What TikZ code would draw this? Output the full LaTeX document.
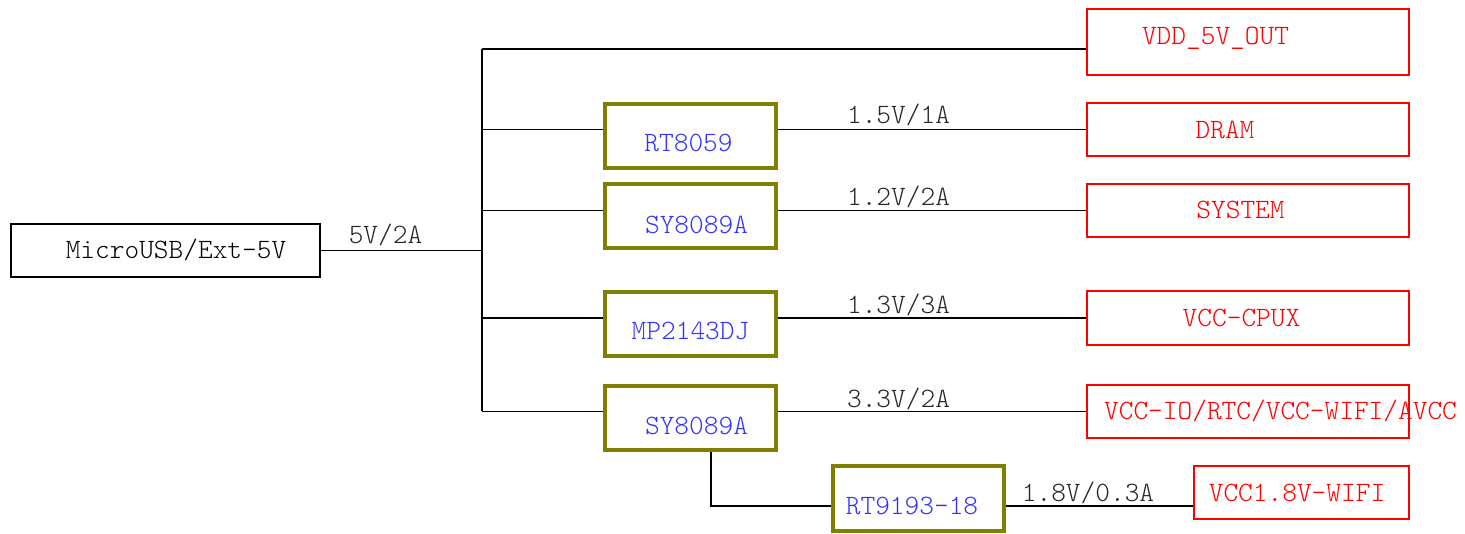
\documentclass[tikz,border=0pt]{standalone}
\usetikzlibrary{positioning}

\definecolor{regolive}{RGB}{128,128,0}
\definecolor{regblue}{RGB}{51,51,255}
\definecolor{loadred}{RGB}{255,0,0}

\tikzset{
	txt/.style={inner sep=0pt, text height=17pt, text depth=0pt, font=\fontsize{28}{30}\fontseries{l}\ttfamily\selectfont},
	srcbox/.style={draw=black, line width=1.2pt, inner sep=0pt, minimum width=309pt, minimum height=53pt},
	regbox/.style={draw=regolive, line width=4pt, inner sep=0pt, minimum width=171pt, minimum height=64pt},
	loadbox/.style={draw=loadred, line width=1.3pt, inner sep=0pt, minimum width=322pt, minimum height=53pt},
	wire/.style={draw=black, line width=1.2pt},
	regname/.style={txt, text=regblue},
	loadname/.style={txt, text=loadred},
	railname/.style={txt, text=black!85}
}

\begin{document}
\begin{tikzpicture}[x=1pt,y=-1pt]
	\useasboundingbox (0,0) rectangle (1465,534);

	% source
	\node[srcbox] (usb) at (165.5,250.5) {};
	\node[txt] (usbtxt) at (176,250.5) {MicroUSB/Ext-5V};

	% regulators
	\node[regbox] (rt8059) at (690,136) {};
	\node[regbox] (sy8089a) at (690,216.5) {};
	\node[regbox] (mp2143) at (690,324.5) {};
	\node[regbox] (sy8089b) at (690,418.5) {};
	\node[regbox] (rt9193) at (918.5,498.5) {};
	\node[regname] (rt8059txt) at (688.5,143) {RT8059};
	\node[regname] (sy8089atxt) at (696.5,225) {SY8089A};
	\node[regname] (mp2143txt) at (690.5,331) {MP2143DJ};
	\node[regname] (sy8089btxt) at (696.5,426) {SY8089A};
	\node[regname] (rt9193txt) at (912,505.5) {RT9193-18};

	% loads
	\node[loadbox, minimum height=66pt] (vdd) at (1248,42) {};
	\node[loadbox] (dram) at (1248,129.5) {};
	\node[loadbox] (sys) at (1248,210.5) {};
	\node[loadbox, minimum height=54pt] (cpux) at (1248,318) {};
	\node[loadbox] (vccio) at (1248,411.5) {};
	\node[loadbox, minimum width=215pt] (wifi) at (1301.5,492.5) {};
	\node[loadname] (vddtxt) at (1215.5,36) {VDD\_5V\_OUT};
	\node[loadname] (dramtxt) at (1225,130.5) {DRAM};
	\node[loadname] (systxt) at (1240.5,210.5) {SYSTEM};
	\node[loadname] (cpuxtxt) at (1241.5,318.5) {VCC-CPUX};
	\node[loadname] (vcciotxt) at (1280.5,411.5) {VCC-IO/RTC/VCC-WIFI/AVCC};
	\node[loadname] (wifitxt) at (1297,493) {VCC1.8V-WIFI};

	% rails
	\node[railname] (in) at (385.5,235.5) {5V/2A};
	\node[railname] (v15) at (898.5,115.5) {1.5V/1A};
	\node[railname] (v12) at (898.5,197) {1.2V/2A};
	\node[railname] (v13) at (898.5,305.5) {1.3V/3A};
	\node[railname] (v33) at (898.5,399) {3.3V/2A};
	\node[railname] (v18) at (1088,492.5) {1.8V/0.3A};

	\coordinate (bustop) at (482,49);
	\coordinate (ldo) at (711,506);

	\path[wire] (usb.east) -- (usb.east -| bustop)
	(bustop) -- (bustop |- vccio.west)
	(bustop) -- (bustop -| vdd.west)
	(bustop |- dram.west) -- (rt8059.west |- dram.west)
	(rt8059.east |- dram.west) -- (dram.west)
	(bustop |- sys.west) -- (sy8089a.west |- sys.west)
	(sy8089a.east |- sys.west) -- (sys.west)
	(bustop |- cpux.west) -- (mp2143.west |- cpux.west)
	(mp2143.east |- cpux.west) -- (cpux.west)
	(bustop |- vccio.west) -- (sy8089b.west |- vccio.west)
	(sy8089b.east |- vccio.west) -- (vccio.west)
	(sy8089b.south -| ldo) -- (ldo) -- (ldo -| rt9193.west)
	(rt9193.east |- ldo) -- (ldo -| wifi.west)
	;
\end{tikzpicture}
\end{document}
